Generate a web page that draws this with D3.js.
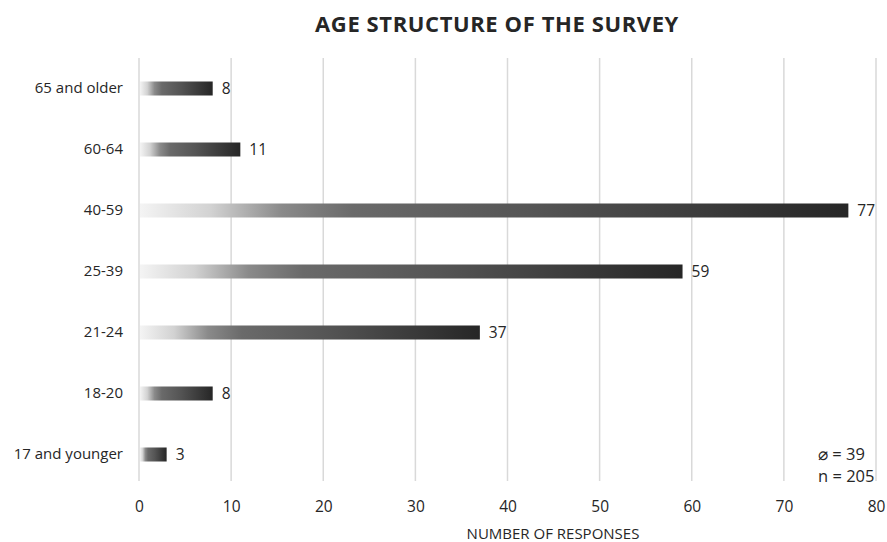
<!DOCTYPE html>
<html>
<head>
<meta charset="utf-8">
<script src="https://cdn.jsdelivr.net/npm/d3@7"></script>
<style>
  body { margin: 0; background: #fff; }
  svg text { font-family: "Open Sans", "Liberation Sans", sans-serif; fill: #262626; }
</style>
</head>
<body>
<svg id="chart" width="887" height="542"></svg>
<script>
// Age groups, listed bottom to top
const categories = ["17 and younger", "18-20", "21-24", "25-39", "40-59", "60-64", "65 and older"];
const responses = [3, 8, 37, 59, 77, 11, 8];
const xTicks = [0, 10, 20, 30, 40, 50, 60, 70, 80];
const title = "AGE STRUCTURE OF THE SURVEY";
const xTitle = "NUMBER OF RESPONSES";
const notes = ["\u2300 = 39", "n = 205"];

const svg = d3.select("#chart");
const plotLeft = 139, plotRight = 876, plotTop = 58, plotBottom = 485;

const x = d3.scaleLinear().domain([0, 80]).range([plotLeft, plotRight]);
const y = d3.scaleBand().domain(categories.slice().reverse()).range([plotTop, plotBottom]).padding(0);
const barH = 14;

// Gradient running light to dark along each bar
const defs = svg.append("defs");
const grad = defs.append("linearGradient").attr("id", "barGrad")
  .attr("x1", "0%").attr("x2", "100%").attr("y1", "0%").attr("y2", "0%");
[[0, "#f4f4f4"], [0.1, "#d2d2d2"], [0.2, "#8a8a8a"], [0.3, "#6a6a6a"], [0.55, "#555555"], [1, "#262626"]]
  .forEach(([o, c]) => grad.append("stop").attr("offset", o).attr("stop-color", c));

// Vertical gridlines
svg.append("g").selectAll("line").data(xTicks).join("line")
  .attr("x1", d => x(d)).attr("x2", d => x(d))
  .attr("y1", plotTop).attr("y2", 481)
  .attr("stroke", "#d9d9d9").attr("stroke-width", 1.5);

// Bars
const rows = categories.map((c, i) => ({ c, v: responses[i] }));
svg.append("g").selectAll("rect").data(rows).join("rect")
  .attr("x", x(0) + 1)
  .attr("y", d => y(d.c) + y.bandwidth() / 2 - barH / 2)
  .attr("width", d => x(d.v) - x(0) - 1)
  .attr("height", barH)
  .attr("fill", "url(#barGrad)");

// Value labels
svg.append("g").selectAll("text").data(rows).join("text")
  .attr("x", d => x(d.v) + 9)
  .attr("y", d => y(d.c) + y.bandwidth() / 2)
  .attr("dy", "0.36em")
  .attr("font-size", 15.5)
  .text(d => d.v);

// Category labels
const yAxis = svg.append("g").attr("transform", `translate(${plotLeft - 4},0)`)
  .call(d3.axisLeft(y).tickSize(0).tickPadding(12));
yAxis.select(".domain").remove();
yAxis.selectAll("text").attr("font-size", 15).style("font-family", "'Open Sans', sans-serif").attr("fill", "#262626");

// X tick labels
const xAxis = svg.append("g").attr("transform", `translate(0,${plotBottom})`)
  .call(d3.axisBottom(x).tickValues(xTicks).tickSize(0).tickPadding(16));
xAxis.select(".domain").remove();
xAxis.selectAll("text").attr("font-size", 15.5).style("font-family", "'Open Sans', sans-serif").attr("fill", "#262626");

// Titles
svg.append("text").attr("x", 497).attr("y", 32).attr("text-anchor", "middle")
  .attr("font-size", 22).attr("font-weight", "bold").attr("letter-spacing", 0.6).attr("fill", "#000").text(title);
svg.append("text").attr("x", 553).attr("y", 539).attr("text-anchor", "middle")
  .attr("font-size", 15).text(xTitle);

// Summary notes
svg.append("g").selectAll("text").data(notes).join("text")
  .attr("x", 818).attr("y", (d, i) => 460 + i * 22)
  .attr("font-size", 16.5).text(d => d);
</script>
</body>
</html>
